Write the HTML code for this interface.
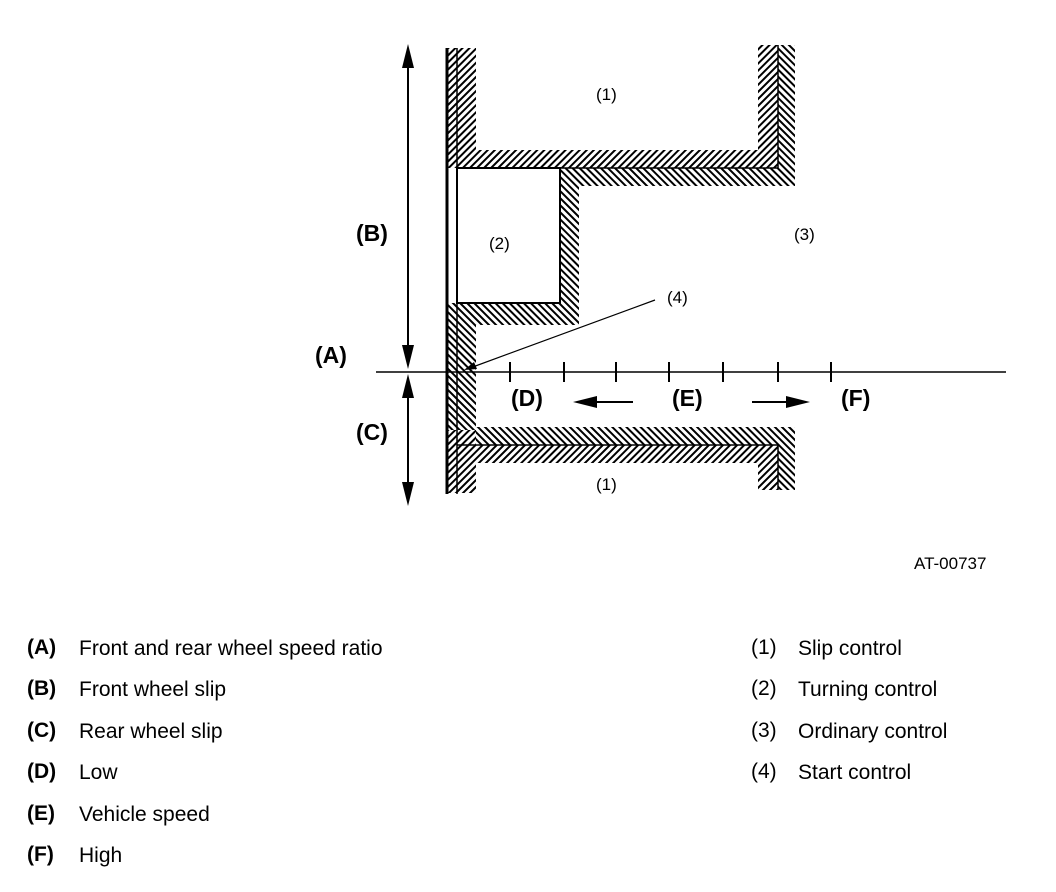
<!DOCTYPE html>
<html><head><style>
html,body{margin:0;padding:0;background:#fff;}
body{width:1056px;height:892px;position:relative;font-family:"Liberation Sans",Arial,sans-serif;}
svg{position:absolute;left:0;top:0;}
</style></head><body>
<svg width="1056" height="892" viewBox="0 0 1056 892" xmlns="http://www.w3.org/2000/svg">
<defs>
<pattern id="bs" patternUnits="userSpaceOnUse" width="5" height="5" patternTransform="rotate(45)">
<rect width="5" height="5" fill="#fff"/><rect width="2" height="5" fill="#000"/></pattern>
<pattern id="fs" patternUnits="userSpaceOnUse" width="5" height="5" patternTransform="rotate(-45)">
<rect width="5" height="5" fill="#fff"/><rect width="2" height="5" fill="#000"/></pattern>
</defs>
<!-- top region hatch (\) -->
<rect x="447" y="48" width="29" height="120" fill="url(#bs)"/>
<rect x="457" y="150" width="321" height="18" fill="url(#bs)"/>
<rect x="758" y="45" width="20" height="123" fill="url(#bs)"/>
<rect x="778" y="45" width="17" height="123" fill="url(#fs)"/>
<!-- (/) hatch -->
<rect x="560" y="168" width="235" height="18" fill="url(#fs)"/>
<rect x="560" y="168" width="19" height="157" fill="url(#fs)"/>
<rect x="447" y="303" width="132" height="22" fill="url(#fs)"/>
<rect x="447" y="303" width="29" height="190" fill="url(#fs)"/>
<!-- bottom -->
<rect x="457" y="427" width="338" height="18" fill="url(#fs)"/>
<rect x="476" y="445" width="302" height="18" fill="url(#bs)"/>
<rect x="447" y="430" width="29" height="63" fill="url(#bs)"/>
<rect x="758" y="445" width="20" height="45" fill="url(#bs)"/>
<rect x="778" y="445" width="17" height="45" fill="url(#fs)"/>
<!-- box 2 -->
<rect x="457" y="168" width="103" height="135" fill="#fff" stroke="#000" stroke-width="2"/>
<rect x="458" y="169" width="101" height="133" fill="#fff"/>
<line x1="457" y1="168" x2="560" y2="168" stroke="#000" stroke-width="2"/>
<line x1="560" y1="168" x2="560" y2="304" stroke="#000" stroke-width="2"/>
<line x1="457" y1="303" x2="560" y2="303" stroke="#000" stroke-width="2"/>
<!-- lines -->
<line x1="457" y1="168" x2="778" y2="168" stroke="#000" stroke-width="1.5"/>
<line x1="778" y1="45" x2="778" y2="168" stroke="#000" stroke-width="1.5"/>
<line x1="457" y1="445" x2="778" y2="445" stroke="#000" stroke-width="1.5"/>
<line x1="778" y1="445" x2="778" y2="490" stroke="#000" stroke-width="1.5"/>
<line x1="447" y1="48" x2="447" y2="494" stroke="#000" stroke-width="3"/>
<line x1="457" y1="48" x2="457" y2="494" stroke="#000" stroke-width="1.5"/>
<!-- axis -->
<line x1="376" y1="372" x2="1006" y2="372" stroke="#000" stroke-width="1.5"/>
<g stroke="#000" stroke-width="2">
<line x1="510" y1="362" x2="510" y2="382"/><line x1="564" y1="362" x2="564" y2="382"/>
<line x1="616" y1="362" x2="616" y2="382"/><line x1="669" y1="362" x2="669" y2="382"/>
<line x1="723" y1="362" x2="723" y2="382"/><line x1="778" y1="362" x2="778" y2="382"/>
<line x1="831" y1="362" x2="831" y2="382"/>
</g>
<!-- vertical arrows -->
<line x1="408" y1="55" x2="408" y2="360" stroke="#000" stroke-width="2"/>
<polygon points="408,44 402,68 414,68" fill="#000"/>
<polygon points="408,369 402,345 414,345" fill="#000"/>
<line x1="408" y1="385" x2="408" y2="495" stroke="#000" stroke-width="2"/>
<polygon points="408,374 402,398 414,398" fill="#000"/>
<polygon points="408,506 402,482 414,482" fill="#000"/>
<!-- horizontal arrows -->
<line x1="590" y1="402" x2="633" y2="402" stroke="#000" stroke-width="2"/>
<polygon points="573,402 597,396 597,408" fill="#000"/>
<line x1="752" y1="402" x2="795" y2="402" stroke="#000" stroke-width="2"/>
<polygon points="810,402 786,396 786,408" fill="#000"/>
<!-- leader (4) -->
<line x1="655" y1="300" x2="470" y2="368" stroke="#000" stroke-width="1.2"/>
<polygon points="464,370 474,362 477,369" fill="#000"/>
<g font-size="17" fill="#000">
<text x="596" y="100">(1)</text>
<text x="489" y="249">(2)</text>
<text x="794" y="240">(3)</text>
<text x="667" y="303">(4)</text>
<text x="596" y="490">(1)</text>
<text x="914" y="569">AT-00737</text>
</g>
<g font-size="23" font-weight="bold" fill="#000">
<text x="356" y="241">(B)</text>
<text x="315" y="363">(A)</text>
<text x="356" y="440">(C)</text>
<text x="511" y="406">(D)</text>
<text x="672" y="406">(E)</text>
<text x="841" y="406">(F)</text>
</g>
<g font-size="21" fill="#000">
<text x="27" y="654" font-weight="bold">(A)</text><text x="79" y="655">Front and rear wheel speed ratio</text>
<text x="27" y="695" font-weight="bold">(B)</text><text x="79" y="696">Front wheel slip</text>
<text x="27" y="737" font-weight="bold">(C)</text><text x="79" y="738">Rear wheel slip</text>
<text x="27" y="778" font-weight="bold">(D)</text><text x="79" y="779">Low</text>
<text x="27" y="820" font-weight="bold">(E)</text><text x="79" y="821">Vehicle speed</text>
<text x="27" y="861" font-weight="bold">(F)</text><text x="79" y="862">High</text>
<text x="751" y="654">(1)</text><text x="798" y="655">Slip control</text>
<text x="751" y="695">(2)</text><text x="798" y="696">Turning control</text>
<text x="751" y="737">(3)</text><text x="798" y="738">Ordinary control</text>
<text x="751" y="778">(4)</text><text x="798" y="779">Start control</text>
</g>
</svg>
</body></html>
